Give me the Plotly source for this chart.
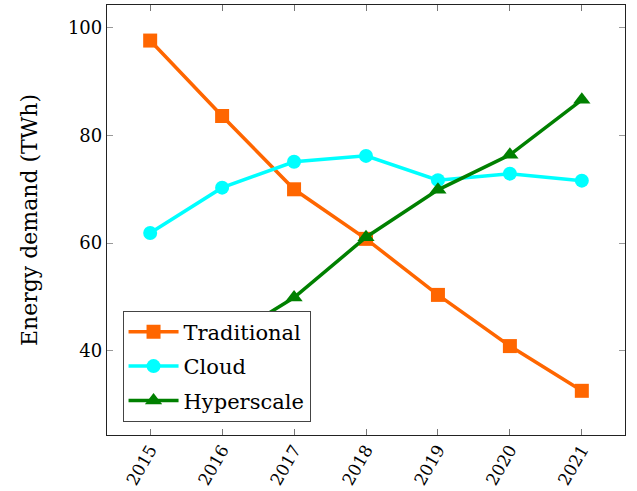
import plotly.graph_objects as go

years = [2015, 2016, 2017, 2018, 2019, 2020, 2021]
traditional = [97.6, 83.6, 70.0, 60.8, 50.4, 40.9, 32.6]
cloud = [61.9, 70.3, 75.1, 76.2, 71.7, 72.9, 71.6]
hyperscale = [35.5, 41.7, 49.9, 61.1, 69.9, 76.4, 86.6]
tick_labels = [str(y) for y in years]

font_family = "DejaVu Serif"

fig = go.Figure()
fig.add_trace(go.Scatter(x=years, y=traditional, name="Traditional", mode="lines+markers",
                         legendgroup="a",
                         line=dict(color="#FF6600", width=3.5),
                         marker=dict(symbol="square", size=14, color="#FF6600")))
fig.add_trace(go.Scatter(x=years, y=cloud, name="Cloud", mode="lines+markers",
                         legendgroup="b",
                         line=dict(color="#00FFFF", width=3.5),
                         marker=dict(symbol="circle", size=14, color="#00FFFF")))
fig.add_trace(go.Scatter(x=years, y=hyperscale, name="Hyperscale", mode="lines+markers",
                         legendgroup="c",
                         line=dict(color="#008000", width=3.5),
                         marker=dict(symbol="triangle-up", size=15, color="#008000")))

fig.update_layout(
    width=637, height=491,
    margin=dict(l=107, r=12, t=5, b=56),
    plot_bgcolor="white", paper_bgcolor="white",
    font=dict(family=font_family, size=18, color="black"),
    showlegend=True,
    legend=dict(x=0.03, y=0.031, xanchor="left", yanchor="bottom",
                bgcolor="white", bordercolor="#444", borderwidth=1,
                font=dict(family=font_family, size=21), itemwidth=50,
                tracegroupgap=4),
    xaxis=dict(range=[2014.4, 2021.6], tickvals=years, ticktext=tick_labels,
               tickangle=-60, ticks="inside", ticklen=6, tickcolor="#777",
               showline=True, linecolor="#222", linewidth=1.3, mirror="allticks",
               showgrid=False, zeroline=False, tickfont=dict(size=17),
               ticklabelstandoff=-3, automargin=False),
    yaxis=dict(range=[24.4, 104.2], tickvals=[40, 60, 80, 100],
               ticks="inside", ticklen=6, tickcolor="#999",
               showline=True, linecolor="#222", linewidth=1.3, mirror="allticks",
               showgrid=False, zeroline=False, automargin=False,
               title=dict(text="Energy demand (TWh)", font=dict(size=22), standoff=24)),
)

fig.write_html("out.html", config={"displayModeBar": False},
               post_script="document.body.style.margin='0';document.body.style.padding='0';")
